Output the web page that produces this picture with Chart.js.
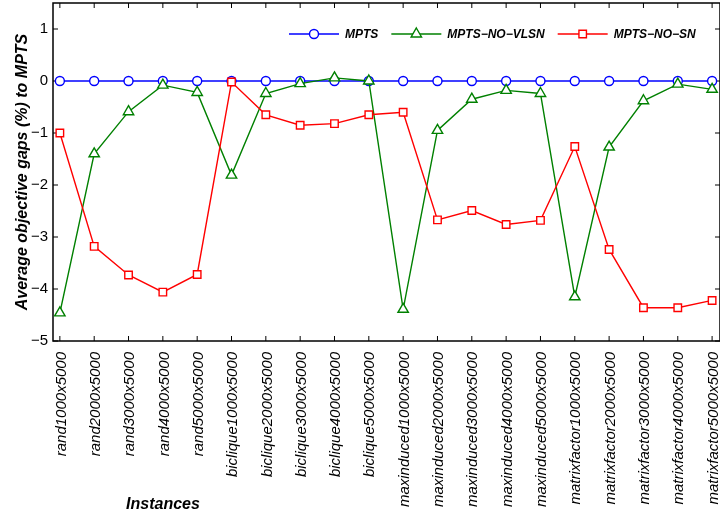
<!DOCTYPE html>
<html><head><meta charset="utf-8">
<script src="https://cdn.jsdelivr.net/npm/chart.js@4.4.0/dist/chart.umd.min.js"></script>
<style>html,body{margin:0;padding:0;background:#fff}#wrap{width:720px;height:517px}</style>
</head><body><div id="wrap"><canvas id="c" width="720" height="517"></canvas></div>
<script>
const instances = [
  'rand1000x5000','rand2000x5000','rand3000x5000','rand4000x5000','rand5000x5000',
  'biclique1000x5000','biclique2000x5000','biclique3000x5000','biclique4000x5000','biclique5000x5000',
  'maxinduced1000x5000','maxinduced2000x5000','maxinduced3000x5000','maxinduced4000x5000','maxinduced5000x5000',
  'matrixfactor1000x5000','matrixfactor2000x5000','matrixfactor3000x5000','matrixfactor4000x5000','matrixfactor5000x5000'
];
const seriesNames = ['MPTS', 'MPTS\u2212NO\u2212VLSN', 'MPTS\u2212NO\u2212SN'];
const mpts   = [0,0,0,0,0, 0,0,0,0,0, 0,0,0,0,0, 0,0,0,0,0];
const noVlsn = [-4.46,-1.40,-0.59,-0.08,-0.22, -1.81,-0.24,-0.05,0.06,0.00, -4.39,-0.95,-0.35,-0.18,-0.24, -4.15,-1.27,-0.38,-0.06,-0.16];
const noSn   = [-1.00,-3.18,-3.73,-4.06,-3.72, -0.02,-0.65,-0.85,-0.82,-0.65, -0.60,-2.67,-2.49,-2.76,-2.68, -1.26,-3.24,-4.36,-4.36,-4.22];
const yTickValues = [-5,-4,-3,-2,-1,0,1];
const xAxisTitle = 'Instances';
const yAxisTitle = 'Average objective gaps (%) to MPTS';

const FONT = "'Liberation Sans', Arial, sans-serif";
const toPts = arr => arr.map((v, i) => ({x: i, y: v}));

function mkDataset(label, data, color, style, radius, order) {
  return {
    label, data: toPts(data), borderColor: color, backgroundColor: '#fff',
    borderWidth: 1.4, pointStyle: style, pointRadius: radius,
    pointBorderColor: color, pointBackgroundColor: '#fff', pointBorderWidth: 1.4,
    tension: 0, order
  };
}

const framePlugin = {
  id: 'frame',
  beforeDatasetsDraw(chart) {
    const {ctx, chartArea: a, scales: {x, y}} = chart;
    ctx.save();
    ctx.strokeStyle = '#000';
    ctx.lineWidth = 1;
    const tl = 5;
    ctx.beginPath();
    x.ticks.forEach(t => {
      const px = x.getPixelForValue(t.value);
      ctx.moveTo(px, a.bottom); ctx.lineTo(px, a.bottom - tl);
      ctx.moveTo(px, a.top); ctx.lineTo(px, a.top + tl);
    });
    y.ticks.forEach(t => {
      const py = y.getPixelForValue(t.value);
      ctx.moveTo(a.left, py); ctx.lineTo(a.left + tl, py);
      ctx.moveTo(a.right, py); ctx.lineTo(a.right - tl, py);
    });
    ctx.stroke();
    ctx.lineWidth = 1.5;
    ctx.strokeRect(a.left, a.top, a.right - a.left, a.bottom - a.top);
    ctx.restore();
  },
  afterDraw(chart) {
    const {ctx} = chart;
    ctx.save();
    ctx.fillStyle = '#000';
    ctx.font = 'italic bold 16px ' + FONT;
    ctx.textAlign = 'center';
    ctx.textBaseline = 'middle';
    ctx.fillText(xAxisTitle, 163, 505);
    ctx.font = 'italic bold 12px ' + FONT;
    ctx.textAlign = 'left';
    let lx = 289;
    const ly = 34;
    chart.data.datasets.forEach(ds => {
      ctx.strokeStyle = ds.borderColor;
      ctx.lineWidth = ds.borderWidth;
      ctx.beginPath(); ctx.moveTo(lx, ly); ctx.lineTo(lx + 50, ly); ctx.stroke();
      ctx.fillStyle = '#fff';
      ctx.strokeStyle = ds.borderColor;
      ctx.lineWidth = ds.pointBorderWidth;
      Chart.helpers.drawPoint(ctx, {pointStyle: ds.pointStyle, radius: ds.pointRadius, borderWidth: ds.pointBorderWidth, rotation: 0}, lx + 25, ly);
      ctx.fillStyle = '#000';
      const tx = lx + 56;
      ctx.fillText(ds.label, tx, ly + 1);
      lx = tx + ctx.measureText(ds.label).width + 13;
    });
    ctx.restore();
  }
};

new Chart(document.getElementById('c'), {
  type: 'line',
  data: {
    datasets: [
      mkDataset(seriesNames[0], mpts, '#0000ff', 'circle', 4.5, 3),
      mkDataset(seriesNames[1], noVlsn, '#008000', 'triangle', 6, 2),
      mkDataset(seriesNames[2], noSn, '#ff0000', 'rect', 5.3, 1)
    ]
  },
  options: {
    responsive: false, animation: false, devicePixelRatio: 1,
    layout: {autoPadding: false, padding: {top: 3, left: 0, right: 0, bottom: 0}},
    plugins: {legend: {display: false}, tooltip: {enabled: false}},
    scales: {
      x: {
        type: 'linear', min: -0.2, max: 19.23,
        afterBuildTicks: s => { s.ticks = instances.map((_, i) => ({value: i})); },
        afterFit: s => { s.height = 176; s.paddingLeft = 0; s.paddingRight = 0; },
        grid: {display: false, drawTicks: false}, border: {display: false},
        ticks: {autoSkip: false, maxRotation: 90, minRotation: 90, padding: 11, labelOffset: 1.5, color: '#000',
          font: {family: FONT, size: 15, style: 'italic'},
          callback: v => instances[v]}
      },
      y: {
        min: -5, max: 1.5,
        afterBuildTicks: s => { s.ticks = yTickValues.map(v => ({value: v})); },
        afterFit: s => { s.width = 53; s.paddingTop = 0; s.paddingBottom = 0; },
        grid: {display: false, drawTicks: false}, border: {display: false},
        ticks: {padding: 5, color: '#000', font: {family: FONT, size: 15},
          callback: v => (v < 0 ? '\u2212' + Math.abs(v) : String(v))},
        title: {display: true, text: yAxisTitle, color: '#000',
          font: {family: FONT, size: 16, weight: 'bold', style: 'italic'},
          padding: {top: 13, bottom: 0}}
      }
    }
  },
  plugins: [framePlugin]
});
</script>
</body></html>
